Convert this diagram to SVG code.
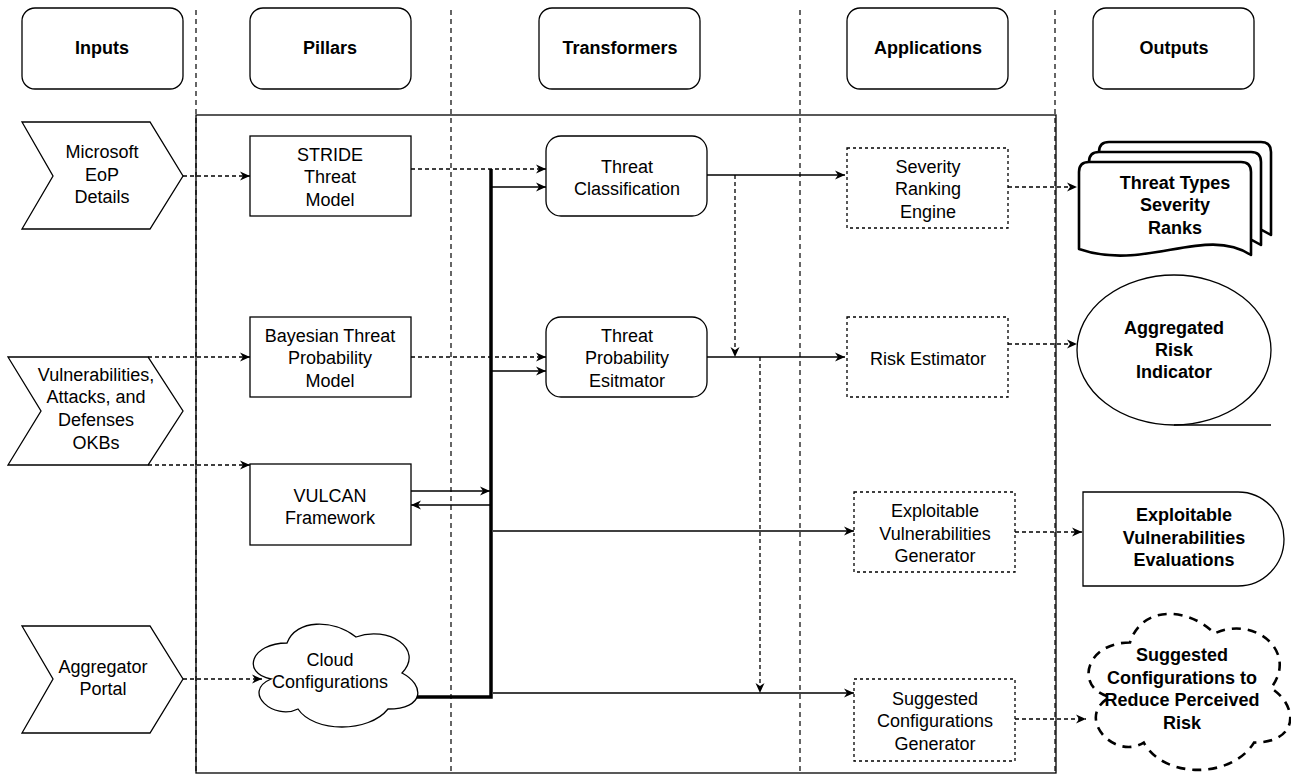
<svg xmlns="http://www.w3.org/2000/svg" width="1291" height="774" viewBox="0 0 1291 774">
<style>
text{font-family:"Liberation Sans",Arial,sans-serif;font-size:18px;fill:#000;text-anchor:middle}
.b{font-weight:bold}
.shape{fill:#fff;stroke:#000;stroke-width:1.3}
.app{fill:#fff;stroke:#000;stroke-width:1.3;stroke-dasharray:3 3}
.thick{fill:#fff;stroke:#000;stroke-width:2.6;stroke-linejoin:round}
.lane{stroke:#000;stroke-width:1.2;stroke-dasharray:5 4;fill:none}
.c{fill:none;stroke:#000;stroke-width:1.3;marker-end:url(#ah)}
.d{fill:none;stroke:#000;stroke-width:1.3;stroke-dasharray:4 3;marker-end:url(#ah)}
.bus{fill:none;stroke:#000;stroke-width:3.5;stroke-linejoin:miter}
</style>
<defs>
<marker id="ah" markerUnits="userSpaceOnUse" markerWidth="11" markerHeight="10" refX="10" refY="4.5" orient="auto" overflow="visible">
<path d="M0,0 L10,4.5 L0,9 L3,4.5 Z" fill="#000"/>
</marker>
</defs>
<rect width="1291" height="774" fill="#fff"/>
<g id="lanes">
<rect x="196" y="115" width="860" height="658" fill="none" stroke="#000" stroke-width="1.3"/>
<line class="lane" x1="196" y1="10" x2="196" y2="774"/>
<line class="lane" x1="451" y1="10" x2="451" y2="774"/>
<line class="lane" x1="800" y1="10" x2="800" y2="774"/>
<line class="lane" x1="1055" y1="10" x2="1055" y2="774"/>
</g>
<g id="h-inputs"><rect class="shape" x="22" y="8" width="161" height="81" rx="13"/><text class="b" x="102" y="54">Inputs</text></g>
<g id="h-pillars"><rect class="shape" x="250" y="8" width="161" height="81" rx="13"/><text class="b" x="330" y="54">Pillars</text></g>
<g id="h-transformers"><rect class="shape" x="539" y="8" width="161" height="81" rx="13"/><text class="b" x="620" y="54">Transformers</text></g>
<g id="h-applications"><rect class="shape" x="847" y="8" width="161" height="81" rx="13"/><text class="b" x="928" y="54">Applications</text></g>
<g id="h-outputs"><rect class="shape" x="1093" y="8" width="161" height="81" rx="13"/><text class="b" x="1174" y="54">Outputs</text></g>

<g id="in-eop"><path class="shape" d="M22,122 H150 L183,176 L150,229 H22 L53,176 Z"/>
<text x="102"><tspan x="102" y="158">Microsoft</tspan><tspan x="102" y="181">EoP</tspan><tspan x="102" y="203">Details</tspan></text></g>
<g id="in-okb"><path class="shape" d="M8,357 H148 L183,411 L148,465 H8 L41,411 Z"/>
<text><tspan x="96" y="381">Vulnerabilities,</tspan><tspan x="96" y="403">Attacks, and</tspan><tspan x="96" y="426">Defenses</tspan><tspan x="96" y="449">OKBs</tspan></text></g>
<g id="in-portal"><path class="shape" d="M22,626 H150 L183,679 L150,733 H22 L53,679 Z"/>
<text><tspan x="103" y="673">Aggregator</tspan><tspan x="103" y="695">Portal</tspan></text></g>

<g id="p-stride"><rect class="shape" x="250" y="136" width="161" height="80"/>
<text><tspan x="330" y="161">STRIDE</tspan><tspan x="330" y="183">Threat</tspan><tspan x="330" y="206">Model</tspan></text></g>
<g id="p-bayes"><rect class="shape" x="250" y="317" width="161" height="80"/>
<text><tspan x="330" y="342">Bayesian Threat</tspan><tspan x="330" y="364">Probability</tspan><tspan x="330" y="387">Model</tspan></text></g>
<g id="p-vulcan"><rect class="shape" x="250" y="464" width="161" height="81"/>
<text><tspan x="330" y="502">VULCAN</tspan><tspan x="330" y="524">Framework</tspan></text></g>
<g id="p-cloud"><path class="shape" d="M287,643 C251,643 241,673 271,679 C241,692 274,721 298,709 C314,733 369,733 388,709 C425,709 425,685 402,673 C425,649 388,625 356,637 C333,619 296,619 287,643 Z"/>
<text><tspan x="330" y="666">Cloud</tspan><tspan x="330" y="688">Configurations</tspan></text></g>

<g id="t-class"><rect class="shape" x="546" y="136" width="161" height="80" rx="15"/>
<text><tspan x="627" y="173">Threat</tspan><tspan x="627" y="195">Classification</tspan></text></g>
<g id="t-prob"><rect class="shape" x="546" y="317" width="161" height="80" rx="15"/>
<text><tspan x="627" y="342">Threat</tspan><tspan x="627" y="364">Probability</tspan><tspan x="627" y="387">Esitmator</tspan></text></g>

<g id="a-severity"><rect class="app" x="847" y="148" width="161" height="80"/>
<text><tspan x="928" y="173">Severity</tspan><tspan x="928" y="195">Ranking</tspan><tspan x="928" y="218">Engine</tspan></text></g>
<g id="a-risk"><rect class="app" x="847" y="317" width="161" height="80"/>
<text x="928" y="365">Risk Estimator</text></g>
<g id="a-exploit"><rect class="app" x="854" y="492" width="161" height="80"/>
<text><tspan x="935" y="517">Exploitable</tspan><tspan x="935" y="540">Vulnerabilities</tspan><tspan x="935" y="562">Generator</tspan></text></g>
<g id="a-suggest"><rect class="app" x="854" y="679" width="161" height="82"/>
<text><tspan x="935" y="705">Suggested</tspan><tspan x="935" y="727">Configurations</tspan><tspan x="935" y="750">Generator</tspan></text></g>

<g id="o-ranks">
<path class="thick" d="M1099,152 Q1099,142 1109,142 H1261 Q1271,142 1271,152 V235 C1225,205 1165,252 1099,229 Z"/>
<path class="thick" d="M1089,162 Q1089,152 1099,152 H1251 Q1261,152 1261,162 V245 C1215,215 1155,262 1089,239 Z"/>
<path class="thick" d="M1079,172 Q1079,162 1089,162 H1241 Q1251,162 1251,172 V255 C1205,225 1145,272 1079,249 Z"/>
<text class="b"><tspan x="1175" y="189">Threat Types</tspan><tspan x="1175" y="211">Severity</tspan><tspan x="1175" y="234">Ranks</tspan></text></g>
<g id="o-risk"><ellipse class="shape" cx="1174" cy="350" rx="97" ry="75"/><line x1="1174" y1="425" x2="1271" y2="425" stroke="#000" stroke-width="1.3"/>
<text class="b"><tspan x="1174" y="334">Aggregated</tspan><tspan x="1174" y="356">Risk</tspan><tspan x="1174" y="378">Indicator</tspan></text></g>
<g id="o-exploit"><path class="shape" d="M1083,492 H1238 A46,47 0 0 1 1238,586 H1083 Z"/>
<text class="b"><tspan x="1184" y="521">Exploitable</tspan><tspan x="1184" y="544">Vulnerabilities</tspan><tspan x="1184" y="566">Evaluations</tspan></text></g>
<g id="o-suggest"><path d="M1130,642.5 C1085,642.5 1074,688 1110,697 C1074,717 1114.5,761 1143.8,742.6 C1164,779 1231.5,779 1254,742.6 C1299,742.6 1299,706 1271,688 C1299,651.6 1254,615 1214.6,633.4 C1186.5,606 1141.5,606 1130,642.5 Z" fill="#fff" stroke="#000" stroke-width="2.6" stroke-dasharray="9 7"/>
<text class="b"><tspan x="1182" y="661">Suggested</tspan><tspan x="1182" y="684">Configurations to</tspan><tspan x="1182" y="706">Reduce Perceived</tspan><tspan x="1182" y="729">Risk</tspan></text></g>

<g id="connectors">
<polyline class="bus" points="417,697 491,697 491,169"/>
<line class="d" x1="183" y1="176" x2="250" y2="176"/>
<line class="d" x1="148" y1="357" x2="250" y2="357"/>
<line class="d" x1="148" y1="465" x2="250" y2="465"/>
<line class="d" x1="183" y1="679" x2="262" y2="679"/>
<line class="d" x1="411" y1="169" x2="546" y2="169"/>
<line class="d" x1="411" y1="357" x2="546" y2="357"/>
<line class="c" x1="491" y1="187" x2="546" y2="187"/>
<line class="c" x1="491" y1="371" x2="546" y2="371"/>
<line class="c" x1="411" y1="491" x2="490" y2="491"/>
<line class="c" x1="490" y1="505" x2="411" y2="505"/>
<line class="c" x1="493" y1="531" x2="854" y2="531"/>
<line class="c" x1="493" y1="693" x2="854" y2="693"/>
<line class="c" x1="707" y1="175" x2="845" y2="175"/>
<line class="c" x1="707" y1="357" x2="845" y2="357"/>
<line class="d" x1="735" y1="175" x2="735" y2="357"/>
<line class="d" x1="760" y1="357" x2="760" y2="693"/>
<line class="d" x1="1008" y1="187" x2="1077" y2="187"/>
<line class="d" x1="1008" y1="344" x2="1077" y2="344"/>
<line class="d" x1="1015" y1="532" x2="1082" y2="532"/>
<line class="d" x1="1015" y1="719" x2="1086" y2="719"/>
</g>
</svg>
